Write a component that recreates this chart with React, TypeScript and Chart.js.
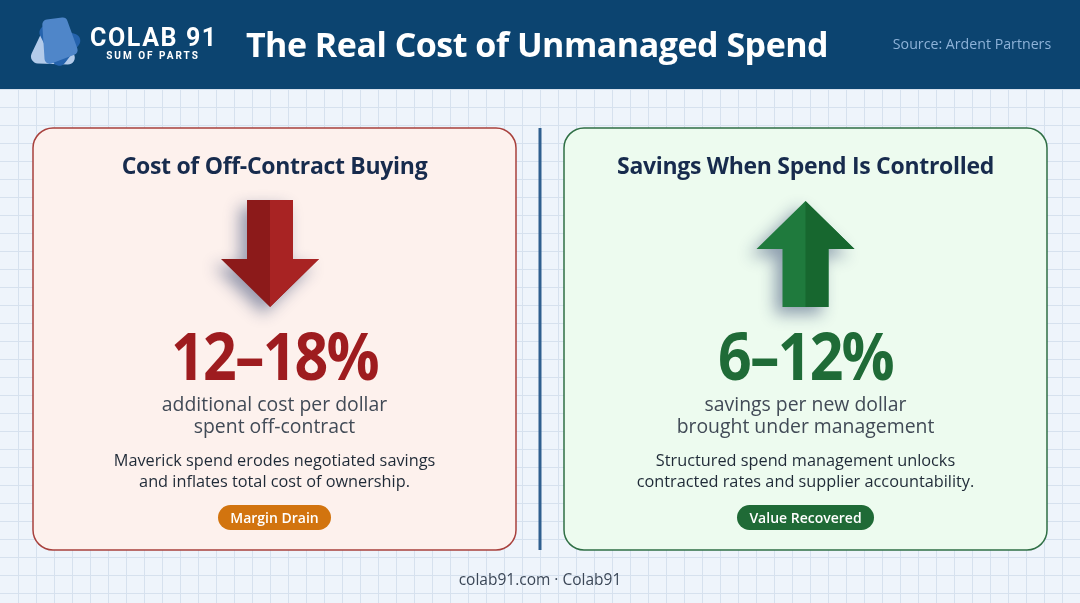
import { useEffect, useRef } from 'react';
import { Chart, registerables } from 'chart.js';

Chart.register(...registerables);

// headline figures for each card
const CARD_KEYS = ['cost', 'savings'];
const RANGE_LOW = [12, 6];
const RANGE_HIGH = [18, 12];
const CARD_TITLES = ['Cost of Off-Contract Buying', 'Savings When Spend Is Controlled'];
const CARD_SUBS = [
  ['additional cost per dollar', 'spent off-contract'],
  ['savings per new dollar', 'brought under management'],
];
const CARD_NOTES = [
  ['Maverick spend erodes negotiated savings', 'and inflates total cost of ownership.'],
  ['Structured spend management unlocks', 'contracted rates and supplier accountability.'],
];
const CARD_TAGS = ['Margin Drain', 'Value Recovered'];

const W = 1080;
const H = 603;
const GRID_STEP = 18;
const HEADER_H = 89;

const FONT = '"Open Sans", "Noto Sans", sans-serif';

const THEME = {
  cost: { border: '#a8403c', fill: '#fdf1ed', big: '#9e1c1f', tag: '#d2740f', dark: '#8c1a1a', light: '#a82323' },
  savings: { border: '#2f6f45', fill: '#edfbef', big: '#1f6b37', tag: '#1f6a36', dark: '#1f7a3d', light: '#17672f' },
};

const CARDS = [
  { x: 33, y: 128, w: 483, h: 422 },
  { x: 564, y: 128, w: 483, h: 422 },
];

function drawArrow(ctx: CanvasRenderingContext2D, cx: number, top: number, bottom: number, up: boolean, dark: string, light: string) {
  const shaftHalf = 23;
  const headHalf = 49;
  const headLen = 48;
  const pts: [number, number][] = up
    ? [
        [cx, top],
        [cx + headHalf, top + headLen],
        [cx + shaftHalf, top + headLen],
        [cx + shaftHalf, bottom],
        [cx - shaftHalf, bottom],
        [cx - shaftHalf, top + headLen],
        [cx - headHalf, top + headLen],
      ]
    : [
        [cx - shaftHalf, top],
        [cx + shaftHalf, top],
        [cx + shaftHalf, bottom - headLen],
        [cx + headHalf, bottom - headLen],
        [cx, bottom],
        [cx - headHalf, bottom - headLen],
        [cx - shaftHalf, bottom - headLen],
      ];
  ctx.save();
  ctx.beginPath();
  pts.forEach(([x, y], i) => (i ? ctx.lineTo(x, y) : ctx.moveTo(x, y)));
  ctx.closePath();
  ctx.shadowColor = 'rgba(25, 45, 95, 0.45)';
  ctx.shadowBlur = 16;
  ctx.shadowOffsetX = -7;
  ctx.shadowOffsetY = 7;
  ctx.fillStyle = dark;
  ctx.fill();
  ctx.restore();
  // lighter right half (folded look)
  ctx.save();
  ctx.beginPath();
  pts.forEach(([x, y], i) => (i ? ctx.lineTo(x, y) : ctx.moveTo(x, y)));
  ctx.closePath();
  ctx.clip();
  ctx.fillStyle = light;
  ctx.fillRect(cx, top - 2, headHalf + 2, bottom - top + 4);
  ctx.restore();
}

function roundPoly(ctx: CanvasRenderingContext2D, pts: [number, number][], r: number) {
  ctx.beginPath();
  const n = pts.length;
  for (let i = 0; i < n; i++) {
    const p0 = pts[(i + n - 1) % n];
    const p1 = pts[i];
    const p2 = pts[(i + 1) % n];
    if (i === 0) ctx.moveTo((p0[0] + p1[0]) / 2, (p0[1] + p1[1]) / 2);
    ctx.arcTo(p1[0], p1[1], (p1[0] + p2[0]) / 2, (p1[1] + p2[1]) / 2, r);
  }
  ctx.closePath();
}

function drawLogo(ctx: CanvasRenderingContext2D) {
  ctx.save();
  // pale triangle
  ctx.fillStyle = '#b3cbea';
  roundPoly(ctx, [[51, 13], [80, 65], [27, 63]], 7);
  ctx.fill();
  // darker triangle, turned
  ctx.fillStyle = '#2563ad';
  roundPoly(ctx, [[33, 21], [85, 37], [58, 72]], 7);
  ctx.fill();
  // mid blue square on top
  ctx.fillStyle = '#4f86c9';
  roundPoly(ctx, [[42, 20], [66, 17], [79, 53], [45, 66]], 5);
  ctx.fill();
  ctx.restore();
}

const layoutPlugin = {
  id: 'layout',
  beforeDraw(chart: Chart) {
    const { ctx } = chart;
    ctx.save();
    ctx.fillStyle = '#eef4fb';
    ctx.fillRect(0, 0, W, H);
    ctx.restore();
  },
  afterDraw(chart: Chart) {
    const { ctx } = chart;
    ctx.save();
    ctx.fillStyle = '#0c4470';
    ctx.fillRect(0, 0, W, HEADER_H);
    ctx.restore();
    drawLogo(ctx);

    CARD_KEYS.forEach((key, i) => {
      const t = THEME[key as keyof typeof THEME];
      const c = CARDS[i];
      ctx.save();
      ctx.beginPath();
      ctx.roundRect(c.x, c.y, c.w, c.h, 20);
      ctx.fillStyle = t.fill;
      ctx.fill();
      ctx.lineWidth = 1.5;
      ctx.strokeStyle = t.border;
      ctx.stroke();
      ctx.restore();
    });

    ctx.save();
    ctx.strokeStyle = '#2f5f8f';
    ctx.lineWidth = 3;
    ctx.beginPath();
    ctx.moveTo(540, 128);
    ctx.lineTo(540, 550);
    ctx.stroke();
    ctx.restore();

    drawArrow(ctx, 270, 200, 307, false, THEME.cost.dark, THEME.cost.light);
    drawArrow(ctx, 805.5, 201, 307, true, THEME.savings.dark, THEME.savings.light);
  },
};

function abs(left: number, top: number, width: number, extra: React.CSSProperties): React.CSSProperties {
  return { position: 'absolute', left, top, width, textAlign: 'center', whiteSpace: 'nowrap', ...extra };
}

export default function App() {
  const canvasRef = useRef<HTMLCanvasElement>(null);

  useEffect(() => {
    document.body.style.margin = '0';
    if (!canvasRef.current) return;
    const chart = new Chart(canvasRef.current, {
      type: 'scatter',
      data: { datasets: [{ data: [] }] },
      options: {
        animation: false,
        responsive: false,
        events: [],
        layout: { padding: 0 },
        plugins: { legend: { display: false }, tooltip: { enabled: false } },
        scales: {
          x: {
            type: 'linear',
            min: 0,
            max: W,
            afterBuildTicks: (s) => {
              const ticks = [];
              for (let v = GRID_STEP; v < W; v += GRID_STEP) ticks.push({ value: v });
              s.ticks = ticks;
            },
            ticks: { display: false },
            border: { display: false },
            grid: { color: '#d6e1ee', lineWidth: 1, drawTicks: false },
          },
          y: {
            type: 'linear',
            reverse: true,
            min: 0,
            max: H,
            afterBuildTicks: (s) => {
              const ticks = [];
              for (let v = HEADER_H; v < H; v += GRID_STEP) ticks.push({ value: v });
              s.ticks = ticks;
            },
            ticks: { display: false },
            border: { display: false },
            grid: { color: '#d6e1ee', lineWidth: 1, drawTicks: false },
          },
        },
      },
      plugins: [layoutPlugin],
    });
    return () => chart.destroy();
  }, []);

  return (
    <div style={{ position: 'relative', width: W, height: H, overflow: 'hidden', fontFamily: FONT }}>
      <canvas ref={canvasRef} width={W} height={H} style={{ position: 'absolute', left: 0, top: 0 }} />

      <div style={abs(90, 23, 124, { color: '#fff', fontFamily: 'Roboto, sans-serif', fontWeight: 700, fontSize: 25, letterSpacing: 1.6, lineHeight: '30px' })}>
        COLAB 91
      </div>
      <div style={abs(96, 50, 114, { color: '#fff', fontFamily: 'Roboto, sans-serif', fontWeight: 700, fontSize: 10, letterSpacing: 2, lineHeight: '12px' })}>
        SUM OF PARTS
      </div>
      <div style={abs(230, 22, 614, { color: '#fff', fontWeight: 700, fontSize: 34, lineHeight: '44px', letterSpacing: -0.5 })}>
        The Real Cost of Unmanaged Spend
      </div>
      <div style={abs(880, 34, 184, { color: '#8db2d8', fontSize: 14.2, lineHeight: '20px' })}>
        Source: Ardent Partners
      </div>

      {CARD_KEYS.map((key, i) => {
        const t = THEME[key as keyof typeof THEME];
        const c = CARDS[i];
        const cx = c.x;
        return (
          <div key={key}>
            <div style={abs(cx, 150, c.w, { color: '#172b4d', fontWeight: 700, fontSize: 23, lineHeight: '30px', letterSpacing: -0.3 })}>
              {CARD_TITLES[i]}
            </div>
            <div
              style={abs(cx, 319, c.w, {
                color: t.big,
                fontWeight: 700,
                fontSize: 59,
                lineHeight: '70px',
                letterSpacing: -1.8,
                transform: 'scaleY(1.12)',
                transformOrigin: '50% 50%',
              })}
            >
              {`${RANGE_LOW[i]}–${RANGE_HIGH[i]}%`}
            </div>
            {CARD_SUBS[i].map((s, j) => (
              <div key={s} style={abs(cx, 391 + j * 22, c.w, { color: '#414a56', fontSize: 19.4, lineHeight: '26px' })}>
                {s}
              </div>
            ))}
            {CARD_NOTES[i].map((s, j) => (
              <div key={s} style={abs(cx, 449 + j * 21, c.w, { color: '#1f2a37', fontSize: 16.3, lineHeight: '22px' })}>
                {s}
              </div>
            ))}
            <div style={abs(cx, 505, c.w, {})}>
              <span
                style={{
                  display: 'inline-block',
                  background: t.tag,
                  color: '#fff',
                  fontWeight: 600,
                  fontSize: 14,
                  lineHeight: '25px',
                  padding: '0 12px',
                  borderRadius: 13,
                }}
              >
                {CARD_TAGS[i]}
              </span>
            </div>
          </div>
        );
      })}

      <div style={abs(340, 567, 400, { color: '#3b4757', fontSize: 15.5, lineHeight: '24px' })}>colab91.com · Colab91</div>
    </div>
  );
}
